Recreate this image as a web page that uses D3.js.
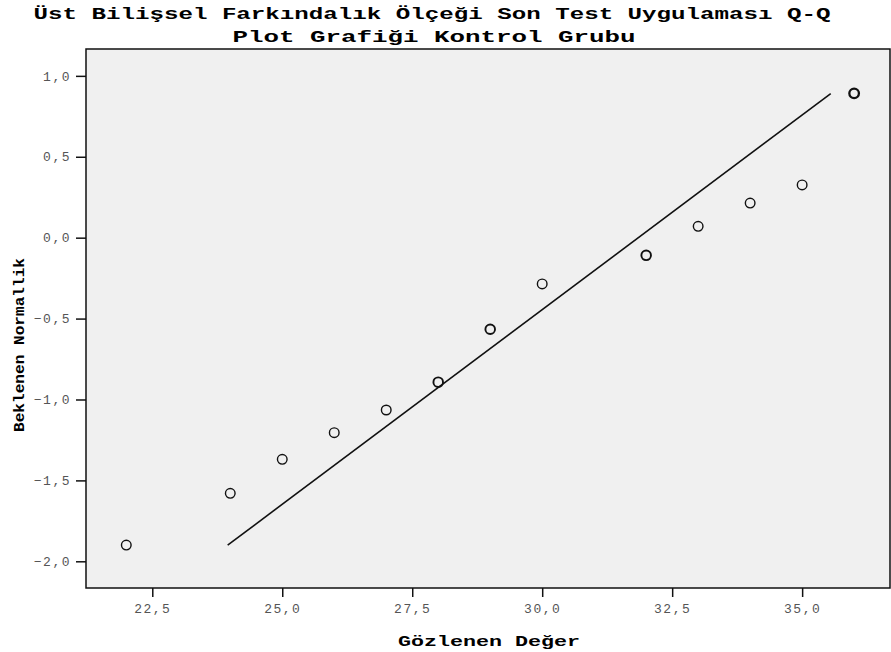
<!DOCTYPE html>
<html>
<head>
<meta charset="utf-8">
<title>Q-Q Plot</title>
<script src="https://d3js.org/d3.v7.min.js"></script>
<style>
  body { margin: 0; background: #fff; }
  svg { display: block; }
</style>
</head>
<body>
<script>
const observed = [22, 24, 25, 26, 27, 28, 29, 30, 32, 33, 34, 35, 36];
const expected = [-1.90, -1.58, -1.37, -1.205, -1.065, -0.893, -0.566, -0.286, -0.109, 0.070, 0.214, 0.326, 0.892];
// how many cases sit on the same point (drawn bolder)
const counts = [1, 1, 1, 1, 1, 2, 2, 1, 2, 1, 1, 1, 3];

// reference line end points
const lineX = [23.95, 35.55];
const lineY = [-1.90, 0.89];

const xTicks = [22.5, 25.0, 27.5, 30.0, 32.5, 35.0];
const yTicks = [1.0, 0.5, 0.0, -0.5, -1.0, -1.5, -2.0];

const titleLines = ["Üst Bilişsel Farkındalık Ölçeği Son Test Uygulaması Q-Q", "Plot Grafiği Kontrol Grubu"];
const xTitle = "Gözlenen Değer";
const yTitle = "Beklenen Normallik";

const width = 891, height = 652;
const margin = {top: 49, right: 1, bottom: 64, left: 86};

const svg = d3.select("body").append("svg")
    .attr("width", width)
    .attr("height", height);

const x = d3.scaleLinear()
    .domain([21.225, 36.69])
    .range([margin.left, width - margin.right]);

const y = d3.scaleLinear()
    .domain([-2.165, 1.166])
    .range([height - margin.bottom, margin.top]);

const fmt = d => d3.format(".1f")(d).replace(".", ",");
const mono = "'Liberation Mono', 'Courier New', monospace";

// plot background
svg.append("rect")
    .attr("x", margin.left)
    .attr("y", margin.top)
    .attr("width", width - margin.right - margin.left)
    .attr("height", height - margin.bottom - margin.top)
    .attr("fill", "#f0f0f0")
    .attr("stroke", "#111")
    .attr("stroke-width", 1.5);

// axes
const xAxis = svg.append("g")
    .attr("transform", `translate(0,${height - margin.bottom})`)
    .call(d3.axisBottom(x).tickValues(xTicks).tickFormat(fmt).tickSize(9).tickPadding(7));

const yAxis = svg.append("g")
    .attr("transform", `translate(${margin.left},0)`)
    .call(d3.axisLeft(y).tickValues(yTicks).tickFormat(fmt).tickSize(10).tickPadding(5));

[xAxis, yAxis].forEach(g => {
  g.select(".domain").remove();
  g.selectAll(".tick line").attr("stroke", "#111").attr("stroke-width", 1.5);
  g.selectAll(".tick text")
    .attr("fill", "#555")
    .style("font-family", mono)
    .style("font-size", "13px")
    .style("letter-spacing", "1.5px");
});

// reference line
svg.append("line")
    .attr("x1", x(lineX[0]))
    .attr("y1", y(lineY[0]))
    .attr("x2", x(lineX[1]))
    .attr("y2", y(lineY[1]))
    .attr("stroke", "#111")
    .attr("stroke-width", 1.6);

// points
svg.append("g")
  .selectAll("circle")
  .data(observed.map((d, i) => ({x: d, y: expected[i], n: counts[i]})))
  .join("circle")
    .attr("cx", d => x(d.x))
    .attr("cy", d => y(d.y))
    .attr("r", 4.8)
    .attr("fill", "none")
    .attr("stroke", "#111")
    .attr("stroke-width", d => d.n > 2 ? 2.3 : d.n > 1 ? 1.9 : 1.4);

// titles
svg.append("text")
    .attr("x", 432).attr("y", 19)
    .attr("text-anchor", "middle")
    .attr("textLength", 797).attr("lengthAdjust", "spacingAndGlyphs")
    .style("font-family", mono).style("font-weight", "bold").style("font-size", "16px")
    .text(titleLines[0]);

svg.append("text")
    .attr("x", 434).attr("y", 42)
    .attr("text-anchor", "middle")
    .attr("textLength", 403).attr("lengthAdjust", "spacingAndGlyphs")
    .style("font-family", mono).style("font-weight", "bold").style("font-size", "16px")
    .text(titleLines[1]);

svg.append("text")
    .attr("x", 489).attr("y", 646)
    .attr("text-anchor", "middle")
    .attr("textLength", 182).attr("lengthAdjust", "spacingAndGlyphs")
    .style("font-family", mono).style("font-weight", "bold").style("font-size", "15px")
    .text(xTitle);

svg.append("text")
    .attr("transform", "translate(24,345) rotate(-90)")
    .attr("text-anchor", "middle")
    .attr("textLength", 174).attr("lengthAdjust", "spacingAndGlyphs")
    .style("font-family", mono).style("font-weight", "bold").style("font-size", "15px")
    .text(yTitle);
</script>
</body>
</html>
